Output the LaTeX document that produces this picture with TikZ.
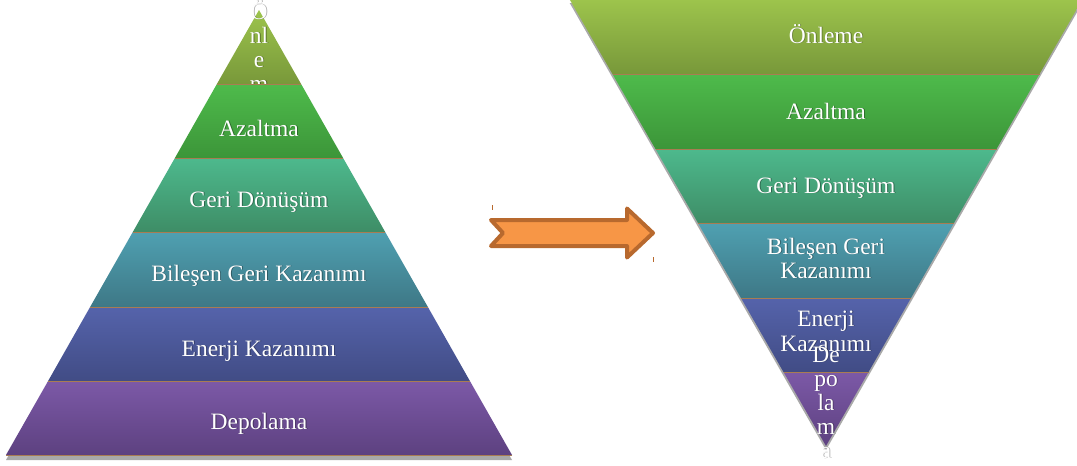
\documentclass[tikz,border=0pt]{standalone}
\usepackage{fontspec}
\setmainfont{Liberation Serif}

% layer colours (top / bottom of each gradient)
\definecolor{onTop}{HTML}{9DC44C}
\definecolor{onBot}{HTML}{78983A}
\definecolor{azTop}{HTML}{4EBB4B}
\definecolor{azBot}{HTML}{3C9539}
\definecolor{geTop}{HTML}{4DB98D}
\definecolor{geBot}{HTML}{3E8D66}
\definecolor{biTop}{HTML}{4FA0B1}
\definecolor{biBot}{HTML}{3E7886}
\definecolor{enTop}{HTML}{5563AB}
\definecolor{enBot}{HTML}{414C85}
\definecolor{deTop}{HTML}{7C59A7}
\definecolor{deBot}{HTML}{5D4180}
\definecolor{sepbrown}{HTML}{A97C52}
\definecolor{arrowfill}{HTML}{F79646}
\definecolor{arrowline}{HTML}{B8692E}
\definecolor{shadowgray}{HTML}{A9A9A9}

% white label with a soft grey drop shadow: name, position, text
\newcommand\wlabel[3]{%
  \node[txtshadow] (#1-sh) at ([shift={(0.9,0.9)}]#2) {#3};
  \node[txt] (#1) at (#2) {#3};}

\begin{document}
\begin{tikzpicture}[x=1pt,y=-1pt,
  txt/.style={text=white, font=\fontsize{23.5}{24}\selectfont, inner sep=0pt, anchor=base},
  txtshadow/.style={txt, text=black, opacity=0.35},
  sep/.style={draw=sepbrown, line width=0.7pt},
  shadowfill/.style={fill=shadowgray},
  arrowbody/.style={fill=arrowfill, draw=arrowline, line width=4pt, line join=round},
  tick/.style={draw=arrowline, line width=1pt}]

\useasboundingbox (0,0) rectangle (1077,466);
\fill[white] (0,0) rectangle (1077,466);
\clip (0,0) rectangle (1077,466);

% ---------- pyramid ----------
\fill[shadowfill] (259,15) -- (512,460) -- (6,460) -- cycle;

\shade[top color=onTop, bottom color=onBot] (259,10) -- (301.1,84) -- (216.9,84) -- cycle;
\wlabel{l1a}{259,19}{Ö}
\wlabel{l1b}{259,43}{nl}
\wlabel{l1c}{259,67}{e}
\wlabel{l1d}{259,91}{m}

\shade[top color=azTop, bottom color=azBot] (216.9,84) -- (301.1,84) -- (343.1,158) -- (174.9,158) -- cycle;
\draw[sep] (216.9,84) -- (301.1,84);
\wlabel{l2}{259,136}{Azaltma}

\shade[top color=geTop, bottom color=geBot] (174.9,158) -- (343.1,158) -- (385.2,232) -- (132.8,232) -- cycle;
\draw[sep] (174.9,158) -- (343.1,158);
\wlabel{l3}{259,207}{Geri Dönüşüm}

\shade[top color=biTop, bottom color=biBot] (132.8,232) -- (385.2,232) -- (427.9,307) -- (90.1,307) -- cycle;
\draw[sep] (132.8,232) -- (385.2,232);
\wlabel{l4}{259,281}{Bileşen Geri Kazanımı}

\shade[top color=enTop, bottom color=enBot] (90.1,307) -- (427.9,307) -- (469.9,381) -- (48.1,381) -- cycle;
\draw[sep] (90.1,307) -- (427.9,307);
\wlabel{l5}{259,356}{Enerji Kazanımı}

\shade[top color=deTop, bottom color=deBot] (48.1,381) -- (469.9,381) -- (512,455) -- (6,455) -- cycle;
\draw[sep] (48.1,381) -- (469.9,381);
\draw[sep] (6,455) -- (512,455);
\wlabel{l6}{259,429}{Depolama}

% ---------- arrow ----------
\filldraw[arrowbody] (491,220) -- (627,220) -- (627,208.5) -- (653,233)
  -- (627,257.5) -- (627,246) -- (491,246) -- (503,233) -- cycle;
\draw[tick] (492,205) -- (492,210);
\draw[tick] (653,257) -- (653,262);

% ---------- inverted pyramid ----------
\fill[shadowfill] (569.7,3) -- (1082.3,3) -- (826,450) -- cycle;

\shade[top color=onTop, bottom color=onBot] (569.7,-0.5) -- (1082.3,-0.5) -- (1039.5,74) -- (612.5,74) -- cycle;
\wlabel{r1}{826,43}{Önleme}

\shade[top color=azTop, bottom color=azBot] (612.5,74) -- (1039.5,74) -- (996.5,149) -- (655.5,149) -- cycle;
\draw[sep] (612.5,74) -- (1039.5,74);
\wlabel{r2}{826,119}{Azaltma}

\shade[top color=geTop, bottom color=geBot] (655.5,149) -- (996.5,149) -- (953.7,223.5) -- (698.3,223.5) -- cycle;
\draw[sep] (655.5,149) -- (996.5,149);
\wlabel{r3}{826,193}{Geri Dönüşüm}

\shade[top color=biTop, bottom color=biBot] (698.3,223.5) -- (953.7,223.5) -- (911,298) -- (741,298) -- cycle;
\draw[sep] (698.3,223.5) -- (953.7,223.5);
\wlabel{r4a}{826,254}{Bileşen Geri}
\wlabel{r4b}{826,278}{Kazanımı}

\shade[top color=enTop, bottom color=enBot] (741,298) -- (911,298) -- (868.5,372) -- (783.5,372) -- cycle;
\draw[sep] (741,298) -- (911,298);
\wlabel{r5a}{826,326}{Enerji}
\wlabel{r5b}{826,351}{Kazanımı}

\shade[top color=deTop, bottom color=deBot] (783.5,372) -- (868.5,372) -- (826,446) -- cycle;
\draw[sep] (783.5,372) -- (868.5,372);
\wlabel{r6a}{826,362}{De}
\wlabel{r6b}{826,386}{po}
\wlabel{r6c}{826,410}{la}
\wlabel{r6d}{826,434}{m}
\wlabel{r6e}{826,458}{a}

\end{tikzpicture}
\end{document}
